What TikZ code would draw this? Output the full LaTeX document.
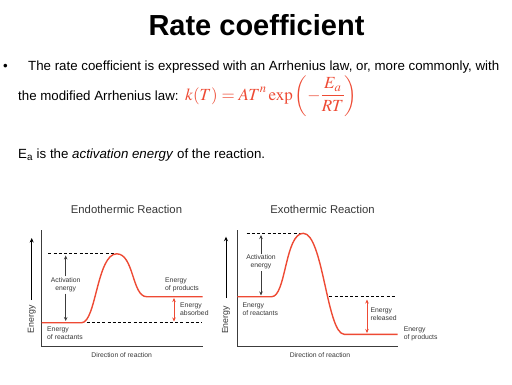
\documentclass[tikz,border=0pt]{standalone}
\usepackage{mathptmx}
\usepackage[no-math]{fontspec}
\setmainfont{Liberation Sans}
\usetikzlibrary{arrows.meta}
\definecolor{redc}{RGB}{238,74,52}
\definecolor{axisc}{RGB}{60,60,60}
\definecolor{labc}{RGB}{55,55,55}
\begin{document}
\begin{tikzpicture}[x=1pt,y=-1pt,
  body/.style={anchor=base west,inner sep=0pt,font=\fontsize{13.3}{16}\selectfont},
  small/.style={inner sep=0pt,align=left,anchor=west,text=labc,font=\fontsize{6.8}{7.7}\selectfont},
  smallc/.style={small,align=center,anchor=center},
  ctitle/.style={inner sep=0pt,text=labc,font=\fontsize{11.3}{13}\selectfont},
  ylab/.style={inner sep=0pt,rotate=90,text=labc,font=\fontsize{8.8}{10}\selectfont},
  axisline/.style={axisc,line width=1.1pt},
  curve/.style={redc,line width=1.4pt},
  dashline/.style={black,line width=0.9pt,dash pattern=on 3pt off 2.2pt},
  garrow/.style={axisc,line width=0.8pt,-{Stealth[length=4pt,width=3.5pt]}},
  rarrow/.style={redc,line width=0.8pt,{Stealth[length=4pt,width=3.5pt]}-{Stealth[length=4pt,width=3.5pt]}},
  yarrow/.style={black,line width=0.9pt,-{Stealth[length=4.5pt,width=4pt]}}]
\fill[white] (0,0) rectangle (512,384);
\useasboundingbox (0,0) rectangle (512,384);

% title and text
\node[anchor=base,inner sep=0pt,font=\bfseries\fontsize{29}{34}\selectfont] (title) at (256.5,35) {Rate coefficient};
\node[body] (bullet) at (3,70.5) {\textbullet};
\node[body] (line1) at (28,70.5) {The rate coefficient is expressed with an Arrhenius law, or, more commonly, with};
\node[body] (line2) at (18,100) {the modified Arrhenius law:};
\node[anchor=base west,inner sep=0pt,text=redc,font=\fontsize{17}{20}\selectfont] (formula) at (185,100)
  {$\displaystyle k(T) = AT^{n}\exp\left(-\frac{E_a}{RT}\right)$};
\node[body] (ea) at (18,158) {E\textsubscript{a} is the \textit{activation energy} of the reaction.};

% ---------------- Endothermic ----------------
\node[ctitle] (endotitle) at (126.5,209.3) {Endothermic Reaction};
\coordinate (eo) at (41.7,346.7);
\draw[axisline] (41.7,230) -- (eo) -- (202.7,346.7);
\coordinate (eyA) at (31.7,300);
\coordinate (eyB) at (31.7,238);
\draw[yarrow] (eyA) -- (eyB);
\node[ylab] (eylab) at (31.7,319.5) {Energy};
\draw[dashline] (48.3,253.8) -- (115,253.8);
\draw[dashline] (86.7,322.7) -- (201.7,322.7);
\draw[curve] (41.7,322.7) -- (81.7,322.7)
  .. controls (96,322.7) and (97,253.8) .. (116.7,253.8)
  .. controls (134,253.8) and (132,296.7) .. (146.7,296.7) -- (202.7,296.7);
\node[smallc] (eact) at (65.7,285) {Activation\\energy};
\coordinate (eact1) at (65.7,276);
\coordinate (eact2) at (65.7,255.5);
\coordinate (eact3) at (65.7,293.5);
\coordinate (eact4) at (65.7,321);
\draw[garrow] (eact1) -- (eact2);
\draw[garrow] (eact3) -- (eact4);
\node[small] (eprod) at (165,285) {Energy\\of products};
\coordinate (eab1) at (174,298);
\coordinate (eab2) at (174,321.5);
\draw[rarrow] (eab1) -- (eab2);
\node[small] (eabs) at (180,309) {Energy\\absorbed};
\node[small] (ereac) at (47,333.5) {Energy\\of reactants};
\node[smallc] (edir) at (121.7,355.5) {Direction of reaction};

% ---------------- Exothermic ----------------
\node[ctitle] (exotitle) at (322.5,209) {Exothermic Reaction};
\coordinate (xo) at (237.3,346.2);
\draw[axisline] (237.3,230) -- (xo) -- (397.7,346.2);
\coordinate (xyA) at (226,298);
\coordinate (xyB) at (226,236.7);
\draw[yarrow] (xyA) -- (xyB);
\node[ylab] (xylab) at (226,320) {Energy};
\draw[dashline] (246.7,233.3) -- (301.7,233.3);
\draw[dashline] (329.3,296.7) -- (396,296.7);
\draw[curve] (237.3,296.7) -- (271.7,296.7)
  .. controls (286,296.7) and (285,233.3) .. (303.3,233.3)
  .. controls (323,233.3) and (327,334.3) .. (344.3,334.3) -- (397.7,334.3);
\node[smallc] (xact) at (261,262) {Activation\\energy};
\coordinate (xact1) at (261,254);
\coordinate (xact2) at (261,235);
\coordinate (xact3) at (261,271);
\coordinate (xact4) at (261,295.5);
\draw[garrow] (xact1) -- (xact2);
\draw[garrow] (xact3) -- (xact4);
\node[small] (xreac) at (242.3,309) {Energy\\of reactants};
\coordinate (xr1) at (367,299.5);
\coordinate (xr2) at (367,333);
\draw[rarrow] (xr1) -- (xr2);
\node[small] (xrel) at (370.3,314) {Energy\\released};
\node[small] (xprod) at (403.7,334) {Energy\\of products};
\node[smallc] (xdir) at (320,355.5) {Direction of reaction};
\end{tikzpicture}
\end{document}
